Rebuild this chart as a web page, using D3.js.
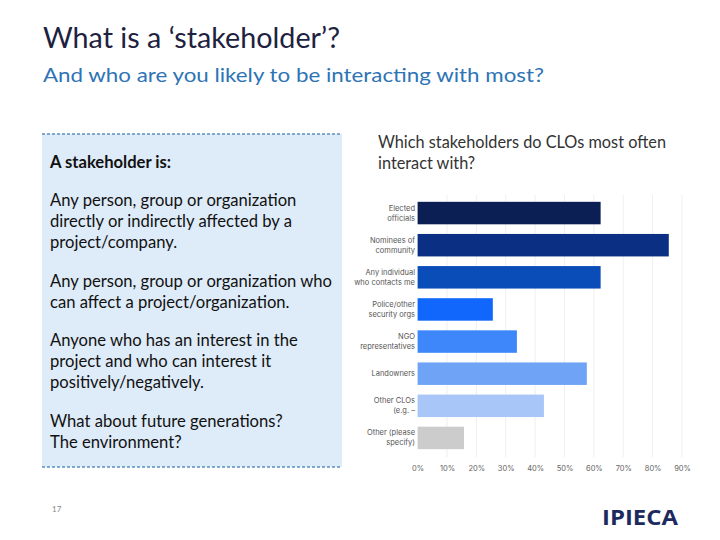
<!DOCTYPE html>
<html><head><meta charset="utf-8">
<script src="https://cdn.jsdelivr.net/npm/d3@7"></script>
<style>html,body{margin:0;padding:0;background:#fff;}</style>
</head><body>
<svg id="c" width="720" height="540"></svg>
<script>
const categories = [
  ["Elected", "officials"],
  ["Nominees of", "community"],
  ["Any individual", "who contacts me"],
  ["Police/other", "security orgs"],
  ["NGO", "representatives"],
  ["Landowners"],
  ["Other CLOs", "(e.g. \u2013"],
  ["Other (please", "specify)"]
];
const values = [0.623, 0.855, 0.623, 0.256, 0.338, 0.576, 0.43, 0.158];
const barColors = ["#0b1f55", "#0b2f82", "#0a4cb8", "#1167fb", "#3d87fb", "#6ea3f6", "#a8c6f7", "#cccccc"];
const tickValues = [0, 0.1, 0.2, 0.3, 0.4, 0.5, 0.6, 0.7, 0.8, 0.9];
const bodyLines = [
  {t: "A stakeholder is:", y: 168, bold: true},
  {t: "Any person, group or organization", y: 206},
  {t: "directly or indirectly affected by a", y: 227},
  {t: "project/company.", y: 248},
  {t: "Any person, group or organization who", y: 287},
  {t: "can affect a project/organization.", y: 308},
  {t: "Anyone who has an interest in the", y: 346},
  {t: "project and who can interest it", y: 367},
  {t: "positively/negatively.", y: 388},
  {t: "What about future generations?", y: 427},
  {t: "The environment?", y: 448}
];

const svg = d3.select("#c");
const font = "Lato, 'Open Sans', sans-serif";

// Titles
svg.append("text").attr("x", 43).attr("y", 48).attr("font-family", font)
  .attr("font-size", 28.5).attr("fill", "#1e2240").attr("textLength", 297).attr("lengthAdjust", "spacingAndGlyphs")
  .text("What is a \u2018stakeholder\u2019?");
svg.append("text").attr("x", 43).attr("y", 82).attr("font-family", font)
  .attr("font-size", 19).attr("fill", "#2e74b5").attr("textLength", 501).attr("lengthAdjust", "spacingAndGlyphs")
  .text("And who are you likely to be interacting with most?");

// Left box
svg.append("rect").attr("x", 42).attr("y", 134).attr("width", 300).attr("height", 333).attr("fill", "#deebf8");
[134, 467].forEach(y => svg.append("line").attr("x1", 42).attr("x2", 342).attr("y1", y).attr("y2", y)
  .attr("stroke", "#5b8ec2").attr("stroke-width", 1.5).attr("stroke-dasharray", "3,2"));
bodyLines.forEach(d => {
  svg.append("text").attr("x", 50).attr("y", d.y).attr("font-family", font)
    .attr("font-size", 16.6).attr("font-weight", d.bold ? "bold" : "normal").attr("fill", "#111")
    .text(d.t);
});

// Chart title
svg.append("text").attr("font-family", font).attr("font-size", 16.3).attr("fill", "#333")
  .selectAll("tspan").data(["Which stakeholders do CLOs most often", "interact with?"]).join("tspan")
  .attr("x", 378).attr("y", (d, i) => 148 + i * 21).text(d => d);

// Bar chart
const x = d3.scaleLinear().domain([0, 0.9]).range([417.6, 682]);
const y = d3.scaleBand().domain(d3.range(categories.length)).range([197, 454]).paddingInner(0.3).paddingOuter(0.15);

const g = svg.append("g");
g.selectAll("line.grid").data(tickValues.slice(1)).join("line").attr("class", "grid")
  .attr("x1", d => x(d)).attr("x2", d => x(d)).attr("y1", 195).attr("y2", 457)
  .attr("stroke", "#efefef").attr("stroke-width", 1);

g.selectAll("rect.bar").data(values).join("rect").attr("class", "bar")
  .attr("x", x(0)).attr("y", (d, i) => y(i)).attr("height", y.bandwidth())
  .attr("width", d => x(d) - x(0)).attr("fill", (d, i) => barColors[i]);

const lab = g.selectAll("text.cat").data(categories).join("text").attr("class", "cat")
  .attr("font-family", "Inter, 'DejaVu Sans', sans-serif").attr("font-size", 7.5).attr("fill", "#555")
  .attr("text-anchor", "end");
lab.each(function(d, i) {
  const t = d3.select(this);
  const cy = y(i) + y.bandwidth() / 2;
  const lh = 10;
  const start = cy - (d.length - 1) * lh / 2 + 2.5;
  d.forEach((s, k) => t.append("tspan").attr("x", 415).attr("y", start + k * lh).text(s));
});

const xAxis = d3.axisBottom(x).tickValues(tickValues).tickFormat(d3.format(".0%")).tickSize(0);
const ax = g.append("g").attr("transform", "translate(0,463)").call(xAxis);
ax.select(".domain").remove();
ax.selectAll("text").attr("font-family", "Inter, 'DejaVu Sans', sans-serif").attr("font-size", 7.5).attr("fill", "#666");

// Footer
svg.append("text").attr("x", 52).attr("y", 512).attr("font-family", font).attr("font-size", 8).attr("fill", "#888").text("17");
svg.append("text").attr("x", 602).attr("y", 525).attr("font-family", "'Open Sans', Roboto, sans-serif")
  .attr("font-size", 21).attr("font-weight", "bold").attr("fill", "#1d2a5e").attr("textLength", 76)
  .attr("lengthAdjust", "spacingAndGlyphs").text("IPIECA");
</script>
</body></html>
